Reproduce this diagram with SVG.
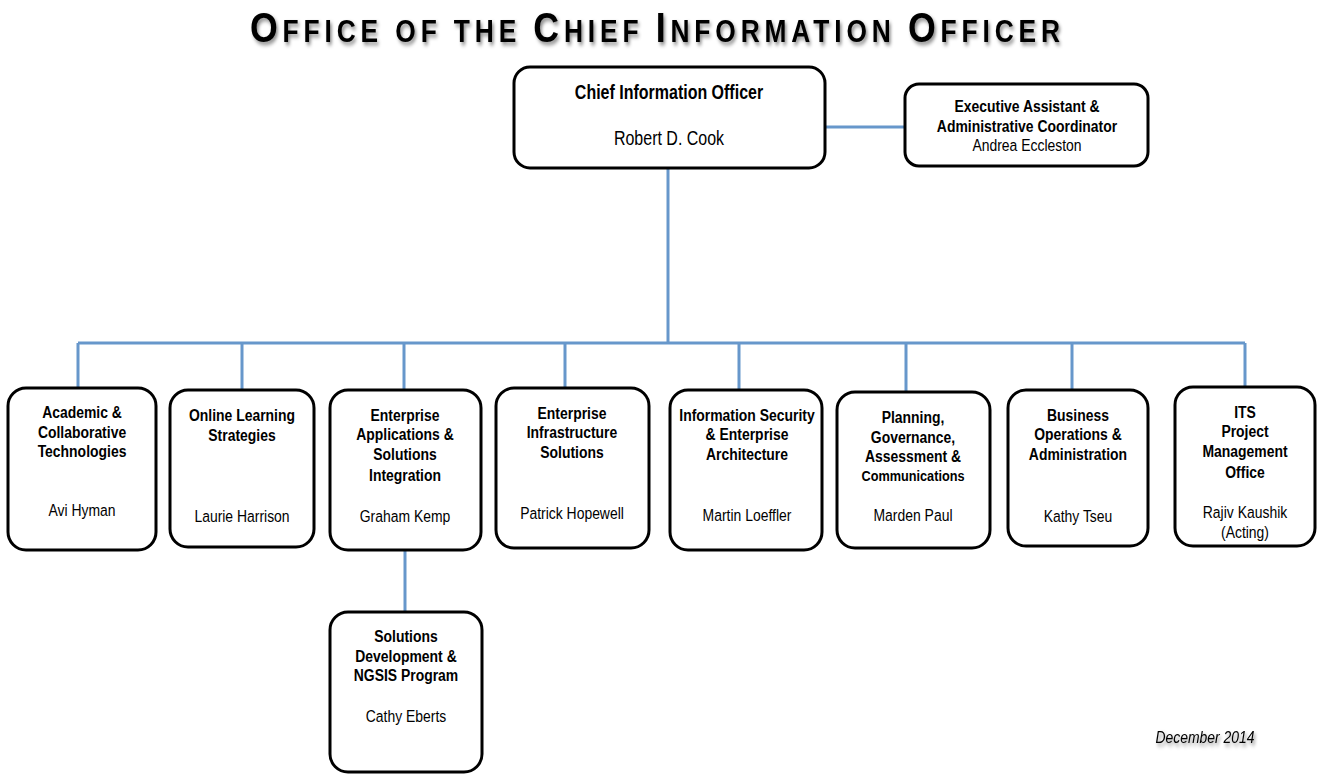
<svg xmlns="http://www.w3.org/2000/svg" width="1323" height="784" viewBox="0 0 1323 784">
<defs>
<style>
.box{fill:#fff;stroke:#000;stroke-width:3}
.t{font-family:"Liberation Sans",Arial,sans-serif;font-size:17px;text-anchor:middle;fill:#000}
.b{font-weight:bold}
.big{font-size:19.5px}
.c{fill:none;stroke:#6797cb;stroke-width:3}
.title{font-family:"Liberation Sans",Arial,sans-serif;font-weight:bold;fill:#000;text-anchor:middle}
</style>
<filter id="sh" x="-5%" y="-30%" width="110%" height="170%">
<feDropShadow dx="2" dy="3" stdDeviation="2" flood-color="#000" flood-opacity="0.45"/>
</filter>
</defs>
<g transform="translate(655 0) scale(0.85 1)" filter="url(#sh)">
<text class="title" x="0" y="42" textLength="953"><tspan font-size="42">O</tspan><tspan font-size="31">FFICE OF THE </tspan><tspan font-size="42">C</tspan><tspan font-size="31">HIEF </tspan><tspan font-size="42">I</tspan><tspan font-size="31">NFORMATION </tspan><tspan font-size="42">O</tspan><tspan font-size="31">FFICER</tspan></text>
</g>
<g id="connectors">
<path class="c" d="M825 127H905"/>
<path class="c" d="M668 168V343"/>
<path class="c" d="M78 343H1245"/>
<path class="c" d="M78 343V388M242 343V390M404 343V390M565 343V388M739 343V390M906 343V392M1072 343V390M1245 343V387"/>
<path class="c" d="M405 550V612"/>
</g>
<g id="cio"><rect class="box" x="514" y="67" width="311" height="101" rx="16"/>
<g transform="translate(669 0) scale(0.82 1)">
<text class="t b big" x="0" y="99">Chief Information Officer</text>
<text class="t big" x="0" y="145">Robert D. Cook</text></g></g>
<g id="exec"><rect class="box" x="905" y="84" width="243" height="82" rx="14"/>
<g transform="translate(1027 0) scale(0.82 1)">
<text class="t b" x="0" y="112">Executive Assistant &amp;</text>
<text class="t b" x="0" y="132">Administrative Coordinator</text>
<text class="t" x="0" y="151">Andrea Eccleston</text></g></g>
<g id="academic"><rect class="box" x="8" y="388" width="148" height="162" rx="18"/>
<g transform="translate(82 0) scale(0.82 1)">
<text class="t b" x="0" y="418">Academic &amp;</text>
<text class="t b" x="0" y="438">Collaborative</text>
<text class="t b" x="0" y="457">Technologies</text>
<text class="t" x="0" y="516">Avi Hyman</text></g></g>
<g id="online"><rect class="box" x="170" y="390" width="144" height="157" rx="18"/>
<g transform="translate(242 0) scale(0.82 1)">
<text class="t b" x="0" y="421">Online Learning</text>
<text class="t b" x="0" y="441">Strategies</text>
<text class="t" x="0" y="522">Laurie Harrison</text></g></g>
<g id="eas"><rect class="box" x="330" y="390" width="151" height="160" rx="18"/>
<g transform="translate(405 0) scale(0.82 1)">
<text class="t b" x="0" y="421">Enterprise</text>
<text class="t b" x="0" y="440">Applications &amp;</text>
<text class="t b" x="0" y="460">Solutions</text>
<text class="t b" x="0" y="481">Integration</text>
<text class="t" x="0" y="522">Graham Kemp</text></g></g>
<g id="eis"><rect class="box" x="496" y="388" width="153" height="160" rx="18"/>
<g transform="translate(572 0) scale(0.82 1)">
<text class="t b" x="0" y="419">Enterprise</text>
<text class="t b" x="0" y="438">Infrastructure</text>
<text class="t b" x="0" y="458">Solutions</text>
<text class="t" x="0" y="519">Patrick Hopewell</text></g></g>
<g id="infosec"><rect class="box" x="670" y="390" width="152" height="160" rx="18"/>
<g transform="translate(747 0) scale(0.82 1)">
<text class="t b" x="0" y="421">Information Security</text>
<text class="t b" x="0" y="440">&amp; Enterprise</text>
<text class="t b" x="0" y="460">Architecture</text>
<text class="t" x="0" y="521">Martin Loeffler</text></g></g>
<g id="planning"><rect class="box" x="837" y="392" width="153" height="156" rx="18"/>
<g transform="translate(913 0) scale(0.82 1)">
<text class="t b" x="0" y="423">Planning,</text>
<text class="t b" x="0" y="443">Governance,</text>
<text class="t b" x="0" y="462">Assessment &amp;</text>
<text class="t b" x="0" y="481" style="font-size:15.5px">Communications</text>
<text class="t" x="0" y="521">Marden Paul</text></g></g>
<g id="business"><rect class="box" x="1008" y="390" width="140" height="156" rx="18"/>
<g transform="translate(1078 0) scale(0.82 1)">
<text class="t b" x="0" y="421">Business</text>
<text class="t b" x="0" y="440">Operations &amp;</text>
<text class="t b" x="0" y="460">Administration</text>
<text class="t" x="0" y="522">Kathy Tseu</text></g></g>
<g id="pmo"><rect class="box" x="1175" y="387" width="140" height="159" rx="18"/>
<g transform="translate(1245 0) scale(0.82 1)">
<text class="t b" x="0" y="418">ITS</text>
<text class="t b" x="0" y="437">Project</text>
<text class="t b" x="0" y="457">Management</text>
<text class="t b" x="0" y="478">Office</text>
<text class="t" x="0" y="518">Rajiv Kaushik</text>
<text class="t" x="0" y="538">(Acting)</text></g></g>
<g id="sdngsis"><rect class="box" x="330" y="612" width="152" height="160" rx="18"/>
<g transform="translate(406 0) scale(0.82 1)">
<text class="t b" x="0" y="642">Solutions</text>
<text class="t b" x="0" y="662">Development &amp;</text>
<text class="t b" x="0" y="681">NGSIS Program</text>
<text class="t" x="0" y="722">Cathy Eberts</text></g></g>
<g transform="translate(1205 0) scale(0.82 1)" filter="url(#sh)">
<text class="t" x="0" y="743" font-style="italic">December 2014</text></g>
</svg>
